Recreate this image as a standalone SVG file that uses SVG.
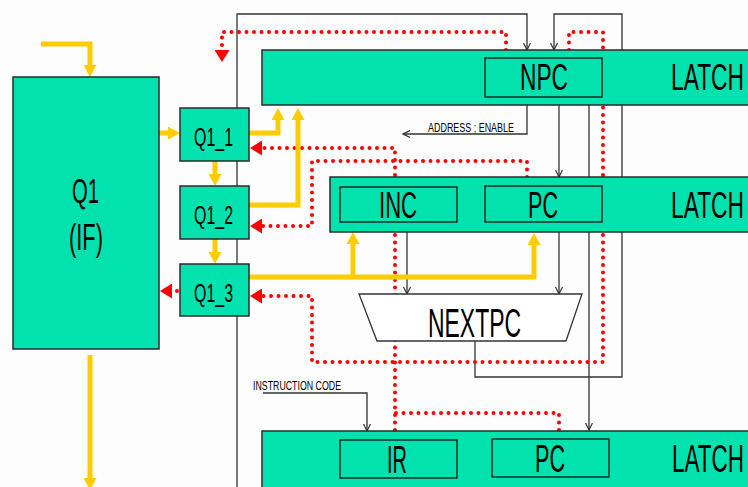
<svg xmlns="http://www.w3.org/2000/svg" width="748" height="487" viewBox="0 0 748 487">
<style>
.box{fill:#02E2AE;stroke:#2a2a2a;stroke-width:1.5}
.inner{fill:none;stroke:#111;stroke-width:1.3}
.t{font-family:"Liberation Sans Narrow","Liberation Sans",Arial,sans-serif;fill:#000}
.small{font-size:13px}
.yl{fill:none;stroke:#FFCC00;stroke-width:5;marker-end:url(#ya)}
.rd{fill:none;stroke:#FF0000;stroke-width:4;stroke-linecap:round;stroke-dasharray:0 7.5}
.ra{marker-end:url(#ra)}
.bk{fill:none;stroke:#333;stroke-width:1.3}
.ba{marker-end:url(#ba)}
</style>
<defs>
<marker id="ya" viewBox="0 0 12 13" refX="2" refY="6.5" markerWidth="12" markerHeight="13" markerUnits="userSpaceOnUse" orient="auto">
<path d="M0,0 L12,6.5 L0,13 z" fill="#FFCC00"/>
</marker>
<marker id="ra" viewBox="0 0 12 15" refX="0" refY="7.5" markerWidth="12" markerHeight="15" markerUnits="userSpaceOnUse" orient="auto">
<path d="M0,0 L12,7.5 L0,15 z" fill="#FF0000"/>
</marker>
<marker id="ba" viewBox="0 0 8 8" refX="7" refY="4" markerWidth="8" markerHeight="8" markerUnits="userSpaceOnUse" orient="auto">
<path d="M0,0.5 L7,4 L0,7.5" fill="none" stroke="#333" stroke-width="1.2"/>
</marker>
</defs>
<rect x="0" y="0" width="748" height="487" fill="#FDFDFD"/>
<g id="connectors">
<path class="bk ba" d="M237,490 V14 H527 V50"/>
<path class="bk ba" d="M475,341 V377 H622 V14 H554 V50"/>
<path class="bk ba" d="M589,105 V430"/>
<path class="bk ba" d="M559,105 V177"/>
<path class="bk ba" d="M559,232 V294"/>
<path class="bk ba" d="M527,105 V134 H403"/>
<path class="bk ba" d="M407,232 V294"/>
<path class="bk ba" d="M263,393 H367 V431"/>
<path class="rd ra" d="M506,50 V32 H222 V50"/>
<path class="rd ra" d="M569,50 V32 H603 V362 H312 V296 H262"/>
<path class="rd ra" d="M395,430 V148 H262"/>
<path class="rd" d="M559,430 V413 H395"/>
<path class="rd ra" d="M527,177 V161 H312 V226 H262"/>
<path class="rd ra" d="M177,291 H172"/>
<path class="yl" d="M41,44 H90 V67"/>
<path class="yl" d="M90,355 V480"/>
<path class="yl" d="M159,133 H170"/>
<path class="yl" d="M215,161 V176"/>
<path class="yl" d="M215,239 V254"/>
<path class="yl" d="M249,133 H278 V118"/>
<path class="yl" d="M249,205 H298 V118"/>
<path class="yl" d="M249,277 H534 V243"/>
<path class="yl" d="M353,277 V242"/>
</g>
<g id="Q1">
<rect class="box" x="13" y="77" width="146" height="272"/>
<text class="t" x="85.5" y="203" font-size="35" text-anchor="middle" textLength="27" lengthAdjust="spacingAndGlyphs">Q1</text>
<text class="t" x="86" y="250" font-size="37" text-anchor="middle" textLength="34" lengthAdjust="spacingAndGlyphs">(IF)</text>
</g>
<g id="Q1_1">
<rect class="box" x="180" y="108" width="69" height="53"/>
<text class="t" x="213.5" y="146" font-size="26" text-anchor="middle" textLength="39" lengthAdjust="spacingAndGlyphs">Q1_1</text>
</g>
<g id="Q1_2">
<rect class="box" x="180" y="186" width="69" height="53"/>
<text class="t" x="213.5" y="224" font-size="26" text-anchor="middle" textLength="39" lengthAdjust="spacingAndGlyphs">Q1_2</text>
</g>
<g id="Q1_3">
<rect class="box" x="180" y="264" width="69" height="52"/>
<text class="t" x="213.5" y="302" font-size="26" text-anchor="middle" textLength="39" lengthAdjust="spacingAndGlyphs">Q1_3</text>
</g>
<g id="latch_npc">
<rect class="box" x="262" y="50" width="492" height="55"/>
<rect class="inner" x="485" y="58" width="117" height="39"/>
<text class="t" x="544" y="90" font-size="37" text-anchor="middle" textLength="48" lengthAdjust="spacingAndGlyphs">NPC</text>
<text class="t" x="671" y="90" font-size="37" textLength="73" lengthAdjust="spacingAndGlyphs">LATCH</text>
</g>
<g id="latch_pc">
<rect class="box" x="330" y="177" width="424" height="55"/>
<rect class="inner" x="340" y="187" width="117" height="35"/>
<rect class="inner" x="485" y="186" width="117" height="36"/>
<text class="t" x="398" y="218" font-size="36" text-anchor="middle" textLength="38" lengthAdjust="spacingAndGlyphs">INC</text>
<text class="t" x="543" y="218" font-size="36" text-anchor="middle" textLength="30" lengthAdjust="spacingAndGlyphs">PC</text>
<text class="t" x="671" y="218" font-size="37" textLength="73" lengthAdjust="spacingAndGlyphs">LATCH</text>
</g>
<g id="nextpc">
<polygon points="359,294 582,294 566,341 377,341" fill="#FFFFFF" stroke="#333" stroke-width="1.3"/>
<text class="t" x="474.5" y="337" font-size="40" text-anchor="middle" textLength="93" lengthAdjust="spacingAndGlyphs">NEXTPC</text>
</g>
<g id="latch_ir">
<rect class="box" x="262" y="431" width="492" height="62"/>
<rect class="inner" x="340" y="440" width="117" height="38"/>
<rect class="inner" x="492" y="439" width="117" height="38"/>
<text class="t" x="397" y="473" font-size="39" text-anchor="middle" textLength="20" lengthAdjust="spacingAndGlyphs">IR</text>
<text class="t" x="550" y="472" font-size="38" text-anchor="middle" textLength="30" lengthAdjust="spacingAndGlyphs">PC</text>
<text class="t" x="672" y="472" font-size="38" textLength="72" lengthAdjust="spacingAndGlyphs">LATCH</text>
</g>
<g id="labels">
<text class="t small" x="428" y="132" textLength="86" lengthAdjust="spacingAndGlyphs">ADDRESS ; ENABLE</text>
<text class="t small" x="253" y="390" textLength="88" lengthAdjust="spacingAndGlyphs">INSTRUCTION CODE</text>
</g>
</svg>
